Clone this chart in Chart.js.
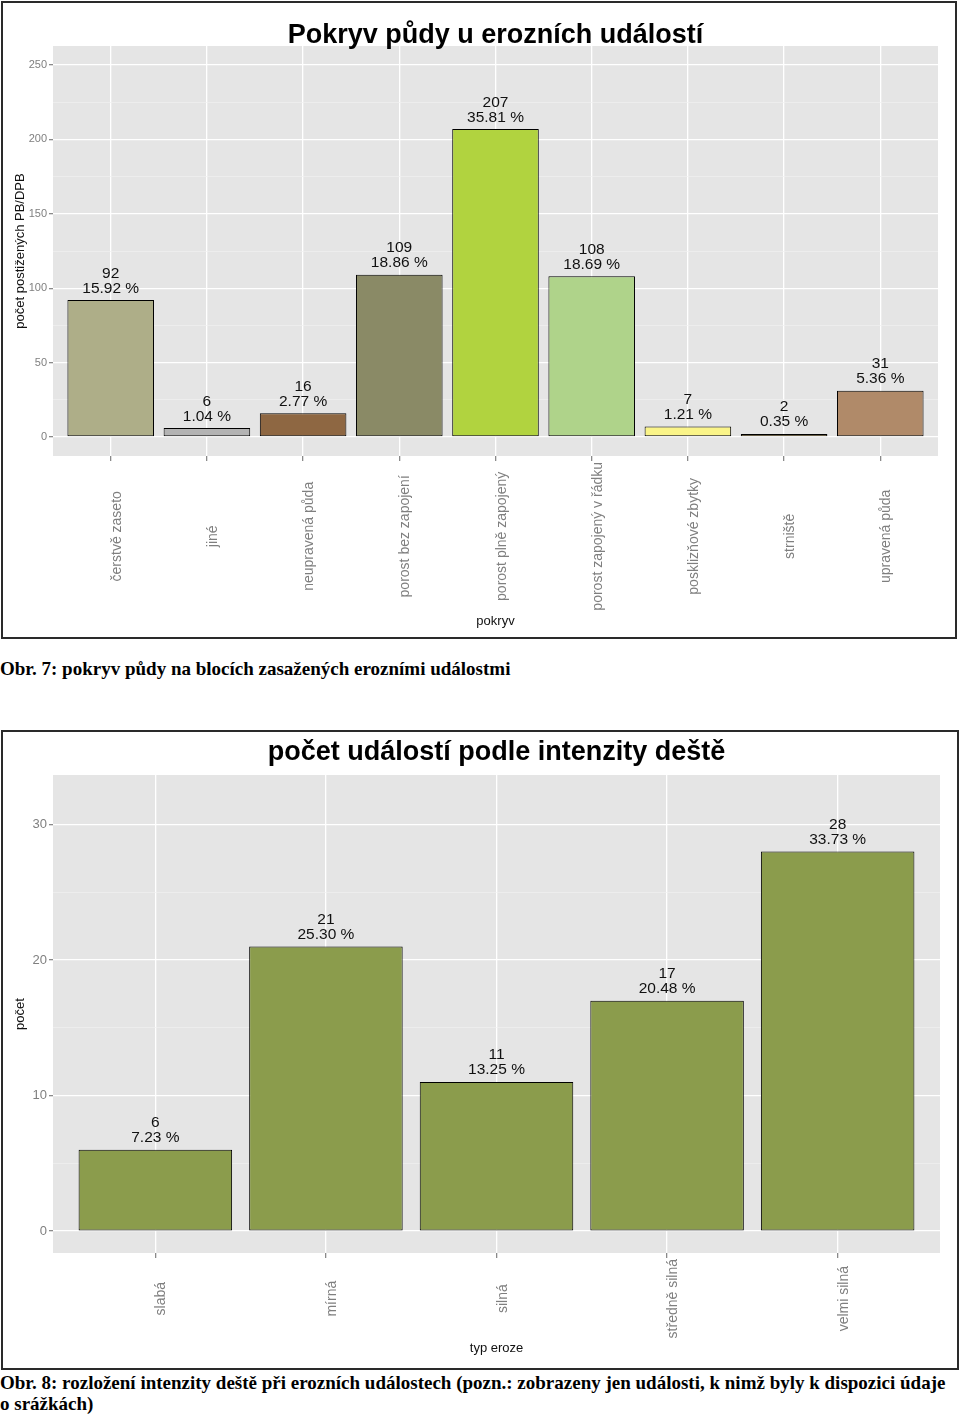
<!DOCTYPE html>
<html><head><meta charset="utf-8">
<script src="https://cdn.jsdelivr.net/npm/chart.js@4/dist/chart.umd.min.js"></script>
<style>
body{margin:0;background:#fff;width:960px;height:1416px;position:relative;overflow:hidden;font-family:"Liberation Sans",Arial,sans-serif}
.box{position:absolute;box-sizing:border-box;border:2px solid #2a2a2a;background:#fff}
.box canvas{display:block}
.cap{position:absolute;left:0;font-family:"Liberation Serif","Times New Roman",serif;font-weight:bold;font-size:19px;color:#000;line-height:21px;white-space:nowrap}
</style></head><body>
<div class="box" style="left:1px;top:1px;width:956px;height:638px"><canvas id="c1" width="952" height="634"></canvas></div>
<div class="cap" style="top:658px">Obr. 7: pokryv půdy na blocích zasažených erozními událostmi</div>
<div class="box" style="left:1px;top:730px;width:958px;height:640px"><canvas id="c2" width="954" height="636"></canvas></div>
<div class="cap" style="top:1372px">Obr. 8: rozložení intenzity deště při erozních událostech (pozn.: zobrazeny jen události, k nimž byly k dispozici údaje<br>o srážkách)</div>
<script>
// ---- data: chart 1 ----
const coverCategories = ['čerstvě zaseto','jiné','neupravená půda','porost bez zapojení','porost plně zapojený','porost zapojený v řádku','posklizňové zbytky','strniště','upravená půda'];
const coverCounts = [92, 6, 16, 109, 207, 108, 7, 2, 31];
const coverPercents = ['15.92','1.04','2.77','18.86','35.81','18.69','1.21','0.35','5.36'];
const coverTicks = [0, 50, 100, 150, 200, 250];
// ---- data: chart 2 ----
const rainCategories = ['slabá','mírná','silná','středně silná','velmi silná'];
const rainCounts = [6, 21, 11, 17, 28];
const rainPercents = ['7.23','25.30','13.25','20.48','33.73'];
const rainTicks = [0, 10, 20, 30];

const coverColors = ['#AEAE88','#B3B3B3','#8E6742','#8A8A66','#B1D33F','#AFD38A','#FAF488','#F3CD72','#B08A69'];
const rainColor = '#8B9C4C';

const FONT = '"Liberation Sans", Arial, sans-serif';

const decor = {
  id: 'decor',
  beforeDraw(chart) {
    const {ctx, chartArea: a} = chart;
    ctx.save();
    ctx.fillStyle = '#e5e5e5';
    ctx.fillRect(a.left, a.top, a.right - a.left, a.bottom - a.top);
    ctx.restore();
  },
  afterDraw(chart, args, o) {
    const {ctx, chartArea: a} = chart;
    const xs = chart.scales.x;
    const cx = (a.left + a.right) / 2;
    ctx.save();
    ctx.fillStyle = '#000';
    ctx.textAlign = 'center';
    ctx.textBaseline = 'alphabetic';
    ctx.font = 'bold 27px ' + FONT;
    ctx.fillText(o.title, cx, o.titleY);
    // value labels
    ctx.font = '15.5px ' + FONT;
    ctx.fillStyle = '#111';
    const meta = chart.getDatasetMeta(0);
    const ds = chart.data.datasets[0].data;
    meta.data.forEach((bar, i) => {
      const y = bar.y - 7.5;
      ctx.fillText(o.percents[i] + ' %', bar.x, y);
      ctx.fillText(String(ds[i].y), bar.x, y - 15);
    });
    // rotated category labels
    ctx.font = '14px ' + FONT;
    ctx.fillStyle = '#7f7f7f';
    let maxLen = 0;
    o.labels.forEach(l => { maxLen = Math.max(maxLen, ctx.measureText(l).width); });
    const cy = a.bottom + 6 + maxLen / 2;
    o.labels.forEach((l, i) => {
      const x = xs.getPixelForValue(i + 1);
      ctx.save();
      ctx.translate(x + 10, cy);
      ctx.rotate(-Math.PI / 2);
      ctx.textAlign = 'center';
      ctx.fillText(l, 0, 0);
      ctx.restore();
    });
    // axis titles
    ctx.font = '13px ' + FONT;
    ctx.fillStyle = '#111';
    ctx.textAlign = 'center';
    ctx.fillText(o.xTitle, cx, a.bottom + 6 + maxLen + 14);
    ctx.save();
    ctx.translate(17, (a.top + a.bottom) / 2);
    ctx.rotate(-Math.PI / 2);
    ctx.textBaseline = 'middle';
    ctx.fillText(o.yTitle, 0, 0);
    ctx.restore();
    ctx.restore();
  }
};

function makeChart(id, cats, counts, percents, colors, tickVals, cfg) {
  const major = tickVals[1] - tickVals[0];
  const isMajor = v => Math.abs(v / major - Math.round(v / major)) < 1e-6;
  return new Chart(document.getElementById(id), {
    type: 'bar',
    data: {
      datasets: [{
        data: counts.map((v, i) => ({x: i + 1, y: v})),
        backgroundColor: colors,
        borderColor: '#000000',
        borderWidth: 1,
        borderSkipped: false,
        barPercentage: 0.9,
        categoryPercentage: 1.0
      }]
    },
    options: {
      responsive: false,
      animation: false,
      layout: {padding: {top: 43, right: cfg.padRight, left: 0, bottom: 0}},
      plugins: {
        legend: {display: false},
        tooltip: {enabled: false},
        decor: {title: cfg.title, titleY: cfg.titleY, xTitle: cfg.xTitle, yTitle: cfg.yTitle, labels: cats, percents: percents}
      },
      scales: {
        x: {
          type: 'linear', min: 0.4, max: cats.length + 0.6, offset: false,
          ticks: {stepSize: 1, includeBounds: false, autoSkip: false, display: false},
          afterBuildTicks: s => { s.ticks = cats.map((c, i) => ({value: i + 1})); },
          grid: {offset: false, color: '#ffffff', lineWidth: 1.3, tickColor: '#8a8a8a', tickLength: 5, drawTicks: true},
          border: {display: false},
          afterFit: s => { s.height = cfg.xHeight; }
        },
        y: {
          type: 'linear', min: cfg.yMin, max: cfg.yMax,
          afterBuildTicks: s => {
            const t = [];
            tickVals.forEach(v => { t.push({value: v}); t.push({value: v + major / 2}); });
            s.ticks = t.filter(k => k.value <= cfg.yMax);
          },
          ticks: {autoSkip: false, color: '#7f7f7f', padding: 2,
                  font: {family: FONT, size: cfg.tickSize},
                  callback: v => isMajor(v) ? String(Math.round(v)) : ''},
          grid: {
            color: c => isMajor(c.tick.value) ? '#ffffff' : '#f1f1f1',
            lineWidth: c => isMajor(c.tick.value) ? 1.3 : 0.7,
            tickColor: c => isMajor(c.tick.value) ? '#8a8a8a' : 'rgba(0,0,0,0)',
            tickLength: 4, drawTicks: true
          },
          border: {display: false},
          afterFit: s => { s.width = 50; }
        }
      }
    },
    plugins: [decor]
  });
}

makeChart('c1', coverCategories, coverCounts, coverPercents, coverColors, coverTicks, {
  title: 'Pokryv půdy u erozních událostí', titleY: 40, xTitle: 'pokryv', yTitle: 'počet postižených PB/DPB',
  yMin: -12.8, yMax: 262.8, xHeight: 181, padRight: 17, tickSize: 11
});
makeChart('c2', rainCategories, rainCounts, rainPercents, rainColor, rainTicks, {
  title: 'počet událostí podle intenzity deště', titleY: 28, xTitle: 'typ eroze', yTitle: 'počet',
  yMin: -1.62, yMax: 33.65, xHeight: 115, padRight: 17, tickSize: 13
});
</script>
</body></html>
